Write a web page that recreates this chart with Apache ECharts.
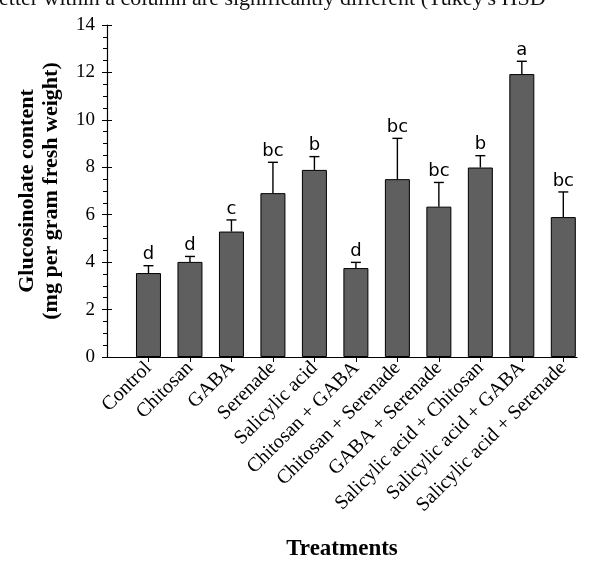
<!DOCTYPE html>
<html>
<head>
<meta charset="utf-8">
<script src="https://cdn.jsdelivr.net/npm/echarts@6/dist/echarts.min.js"></script>
<style>
  html, body { margin: 0; padding: 0; background: #fff; }
  #main { width: 592px; height: 562px; }
</style>
</head>
<body>
<div id="main"></div>
<script>
// treatments along the x axis
const treatments = [
  'Control', 'Chitosan', 'GABA', 'Serenade', 'Salicylic acid',
  'Chitosan + GABA', 'Chitosan + Serenade', 'GABA + Serenade',
  'Salicylic acid + Chitosan', 'Salicylic acid + GABA', 'Salicylic acid + Serenade'
];
// mean glucosinolate content
const means = [3.54, 4.01, 5.29, 6.91, 7.89, 3.75, 7.50, 6.34, 7.99, 11.93, 5.90];
// upper error (SE)
const errors = [0.31, 0.23, 0.49, 1.30, 0.56, 0.24, 1.72, 1.02, 0.50, 0.54, 1.06];
// Tukey HSD letters
const letters = ['d', 'd', 'c', 'bc', 'b', 'd', 'bc', 'bc', 'b', 'a', 'bc'];
const yTicks = [0, 2, 4, 6, 8, 10, 12, 14];

const serif = '"Liberation Serif", "Times New Roman", serif';

let myChart = echarts.init(document.getElementById('main'));

const barData = means.map((v, i) => [i, v]);
const errData = means.map((v, i) => [i, v, v + errors[i]]);

myChart.setOption({
  animation: false,
  graphic: [{
    type: 'text',
    left: -1,
    top: -12,
    style: {
      text: "etter within a column are significantly different (Tukey's HSD",
      font: '22px ' + serif,
      fill: '#111'
    }
  }],
  grid: { left: 107, right: 15, top: 25, bottom: 205, outerBoundsMode: 'none' },
  xAxis: {
    type: 'value',
    min: -1,
    max: 10.33,
    interval: 1,
    splitLine: { show: false },
    axisLine: { show: true, onZero: false, lineStyle: { color: '#000', width: 1.2 } },
    axisTick: {
      show: true, length: 5, lineStyle: { color: '#000', width: 1 },
      customValues: treatments.map((t, i) => i)
    },
    axisLabel: {
      rotate: 45,
      margin: 8,
      color: '#000',
      fontFamily: serif,
      fontSize: 20,
      customValues: treatments.map((t, i) => i),
      formatter: v => treatments[Math.round(v)] || ''
    },
    name: 'Treatments',
    nameLocation: 'middle',
    nameGap: 181,
    nameTextStyle: { fontFamily: serif, fontSize: 23, fontWeight: 'bold', color: '#000', verticalAlign: 'top' }
  },
  yAxis: [{
    type: 'value',
    min: 0,
    max: 14,
    interval: 2,
    splitLine: { show: false },
    axisLine: { show: true, onZero: false, lineStyle: { color: '#000', width: 1.2 } },
    axisTick: { show: true, length: 5, lineStyle: { color: '#000' } },
    minorTick: { show: true, splitNumber: 4, length: 4, lineStyle: { color: '#000' } },
    axisLabel: {
      margin: 12, color: '#000', fontFamily: serif, fontSize: 19,
      customValues: yTicks
    },
    name: 'Glucosinolate content\n(mg per gram fresh weight)',
    nameLocation: 'middle',
    nameGap: 44,
    nameTextStyle: { fontFamily: serif, fontSize: 22, fontWeight: 'bold', color: '#000', lineHeight: 24 }
  }, {
    // inner half of the major ticks
    type: 'value',
    position: 'left',
    min: 0,
    max: 14,
    interval: 2,
    splitLine: { show: false },
    axisLine: { show: false, onZero: false },
    axisTick: { show: true, inside: true, length: 5, lineStyle: { color: '#000' } },
    axisLabel: { show: false }
  }],
  series: [{
    type: 'bar',
    data: barData,
    barWidth: 25,
    itemStyle: { color: '#5f5f5f', borderColor: '#000', borderWidth: 1 },
    z: 2
  }, {
    type: 'custom',
    data: errData,
    z: 3,
    renderItem: function (params, api) {
      const base = api.coord([api.value(0), api.value(1)]);
      const top = api.coord([api.value(0), api.value(2)]);
      const half = 5;
      return {
        type: 'group',
        children: [{
          type: 'line',
          shape: { x1: base[0], y1: base[1], x2: top[0], y2: top[1] },
          style: { stroke: '#000', lineWidth: 1.4 }
        }, {
          type: 'line',
          shape: { x1: top[0] - half, y1: top[1], x2: top[0] + half, y2: top[1] },
          style: { stroke: '#000', lineWidth: 1.4 }
        }, {
          type: 'text',
          x: top[0],
          y: top[1] - 2,
          style: {
            text: letters[params.dataIndex],
            align: 'center',
            verticalAlign: 'bottom',
            font: '18px "DejaVu Sans", Verdana, sans-serif',
            fill: '#000'
          }
        }]
      };
    }
  }]
});
</script>
</body>
</html>
